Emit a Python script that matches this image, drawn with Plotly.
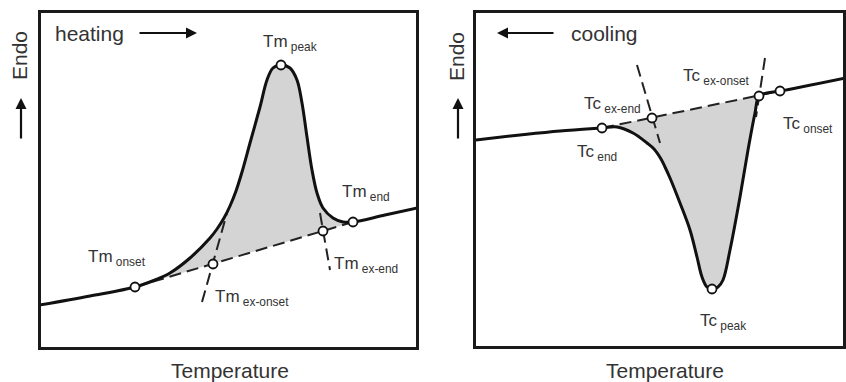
import plotly.graph_objects as go

# ---------------- data (arbitrary units: temperature -> , heat flow up) ----------------
# Heating (left panel)
heat_x = [0, 50, 95, 115, 130, 150, 170, 177, 184, 190, 196, 202, 210, 220, 227, 233, 241, 250, 257, 262, 267, 272, 277, 283, 293, 303, 313, 345, 377]
heat_y = [43, 52, 61, 68, 75, 90, 110, 119, 130, 142, 157, 176, 205, 241, 268, 280, 283, 280, 268, 245, 211, 178, 155, 140, 130, 126, 126, 133, 140]
heat_pt_names = ["onset", "ex-onset", "peak", "ex-end", "end"]
heat_pt_x = [95, 173, 241, 283, 313]
heat_pt_y = [61, 84, 283, 117, 126]
heat_tan1_x = [162, 187]
heat_tan1_y = [46, 135]
heat_tan2_x = [280, 290]
heat_tan2_y = [135, 78]

# Cooling (right panel)
cool_x = [0, 45, 85, 127, 142, 158, 172, 179, 186, 190, 195, 205, 215, 222, 227, 232, 237, 243, 248, 255, 265, 273, 280, 284, 292, 305, 370]
cool_y = [207, 212, 216, 219, 220, 214, 204, 198, 188, 180, 169, 144, 117, 90, 70, 60, 58, 60, 67, 97, 150, 197, 234, 251, 254, 256, 269]
cool_pt_names = ["end", "ex-end", "peak", "ex-onset", "onset"]
cool_pt_x = [127, 177, 237, 284, 305]
cool_pt_y = [219, 229, 58, 251, 256]
cool_tan1_x = [162, 185]
cool_tan1_y = [282, 204]
cool_tan2_x = [290, 281]
cool_tan2_y = [289, 230]

# labels: (text main, subscript, x, y)
heat_labels = [("Tm", "peak", 250, 305), ("Tm", "end", 326, 155), ("Tm", "onset", 77, 90),
               ("Tm", "ex-onset", 212, 50), ("Tm", "ex-end", 326, 83)]
cool_labels = [("Tc", "ex-onset", 241, 270), ("Tc", "ex-end", 137, 242), ("Tc", "end", 122, 194),
               ("Tc", "onset", 333, 222), ("Tc", "peak", 248, 25)]

W, H = 846, 382
FONT = "Liberation Sans, Arial, sans-serif"
TXT = "#333333"
LINE = "#111111"
FILL = "#d4d4d4"
SMOOTH = 1.0

fig = go.Figure()


def seg(xs, ys, x0, x1):
    px, py = [], []
    for a, b in zip(xs, ys):
        if x0 <= a <= x1:
            px.append(a)
            py.append(b)
    return px, py


def add_panel(xs, ys, ptx, pty, t1x, t1y, t2x, t2y, on_i, end_i, xa, ya):
    bx = [ptx[on_i], ptx[end_i]]
    by = [pty[on_i], pty[end_i]]
    sx, sy = seg(xs, ys, min(bx), max(bx))
    fig.add_trace(go.Scatter(x=bx, y=by, mode="lines", line=dict(width=0, color=FILL),
                             xaxis=xa, yaxis=ya, showlegend=False, hoverinfo="skip"))
    fig.add_trace(go.Scatter(x=sx, y=sy, mode="lines",
                             line=dict(width=0, shape="spline", smoothing=SMOOTH, color=FILL),
                             fill="tonexty", fillcolor=FILL, xaxis=xa, yaxis=ya,
                             showlegend=False, hoverinfo="skip"))
    for lx, ly in [(bx, by), (t1x, t1y), (t2x, t2y)]:
        fig.add_trace(go.Scatter(x=lx, y=ly, mode="lines",
                                 line=dict(color="#222222", width=2, dash="12px,6px"),
                                 xaxis=xa, yaxis=ya, showlegend=False, hoverinfo="skip"))
    fig.add_trace(go.Scatter(x=xs, y=ys, mode="lines",
                             line=dict(color=LINE, width=3, shape="spline", smoothing=SMOOTH),
                             xaxis=xa, yaxis=ya, showlegend=False, hoverinfo="skip"))
    fig.add_trace(go.Scatter(x=ptx, y=pty, mode="markers",
                             marker=dict(size=9, color="white", line=dict(color=LINE, width=1.8)),
                             xaxis=xa, yaxis=ya, showlegend=False, hoverinfo="skip"))


add_panel(heat_x, heat_y, heat_pt_x, heat_pt_y, heat_tan1_x, heat_tan1_y, heat_tan2_x, heat_tan2_y,
          0, 4, "x", "y")
add_panel(cool_x, cool_y, cool_pt_x, cool_pt_y, cool_tan1_x, cool_tan1_y, cool_tan2_x, cool_tan2_y,
          0, 4, "x2", "y2")

ann = []
for main, sub, x, y in heat_labels:
    ann.append(dict(x=x, y=y, xref="x", yref="y", showarrow=False, xanchor="center", yanchor="middle",
                    text=f"{main}<sub> {sub}</sub>", font=dict(size=17, color=TXT, family=FONT)))
for main, sub, x, y in cool_labels:
    ann.append(dict(x=x, y=y, xref="x2", yref="y2", showarrow=False, xanchor="center", yanchor="middle",
                    text=f"{main}<sub> {sub}</sub>", font=dict(size=17, color=TXT, family=FONT)))

# direction texts and arrows
ann.append(dict(x=49, y=315, xref="x", yref="y", text="heating", showarrow=False,
                xanchor="center", yanchor="middle", font=dict(size=21, color=TXT, family=FONT)))
ann.append(dict(x=157, y=315, ax=98, ay=315, xref="x", yref="y", axref="x", ayref="y",
                text="", showarrow=True, arrowhead=2, arrowsize=1, arrowwidth=2.2, arrowcolor=LINE))
ann.append(dict(x=129, y=314, xref="x2", yref="y2", text="cooling", showarrow=False,
                xanchor="center", yanchor="middle", font=dict(size=21, color=TXT, family=FONT)))
ann.append(dict(x=22, y=314, ax=80, ay=314, xref="x2", yref="y2", axref="x2", ayref="y2",
                text="", showarrow=True, arrowhead=2, arrowsize=1, arrowwidth=2.2, arrowcolor=LINE))

# y titles ("Endo" with up arrow) and x titles
for cx in [20, 457]:
    ann.append(dict(x=cx / W, y=1 - 56 / H, xref="paper", yref="paper", text="Endo", textangle=-90,
                    xanchor="center", yanchor="middle",
                    showarrow=False, font=dict(size=21, color=TXT, family=FONT)))
    ann.append(dict(x=(cx + 1) / W, y=1 - 98 / H, ax=0, ay=42,
                    xref="paper", yref="paper", text="",
                    showarrow=True, arrowhead=2, arrowsize=1, arrowwidth=2.2, arrowcolor=LINE))
for cx in [230, 665]:
    ann.append(dict(x=cx / W, y=1 - 370 / H, xref="paper", yref="paper", text="Temperature",
                    xanchor="center", yanchor="middle",
                    showarrow=False, font=dict(size=21, color=TXT, family=FONT)))

ax_common = dict(showline=True, mirror=True, linewidth=3, linecolor="#1a1a1a", showgrid=False,
                 zeroline=False, showticklabels=False, ticks="", fixedrange=True)

fig.update_layout(
    width=W, height=H, margin=dict(l=0, r=0, t=0, b=0),
    paper_bgcolor="white", plot_bgcolor="white",
    xaxis=dict(domain=[41 / W, 416 / W], range=[1, 376], **ax_common),
    yaxis=dict(domain=[1 - 347 / H, 1 - 13 / H], range=[1, 335], **ax_common),
    xaxis2=dict(domain=[476 / W, 843 / W], range=[1, 368], anchor="y2", **ax_common),
    yaxis2=dict(domain=[1 - 346 / H, 1 - 13 / H], range=[1, 334], anchor="x2", **ax_common),
    annotations=ann,
)

fig.write_html("out.html")
